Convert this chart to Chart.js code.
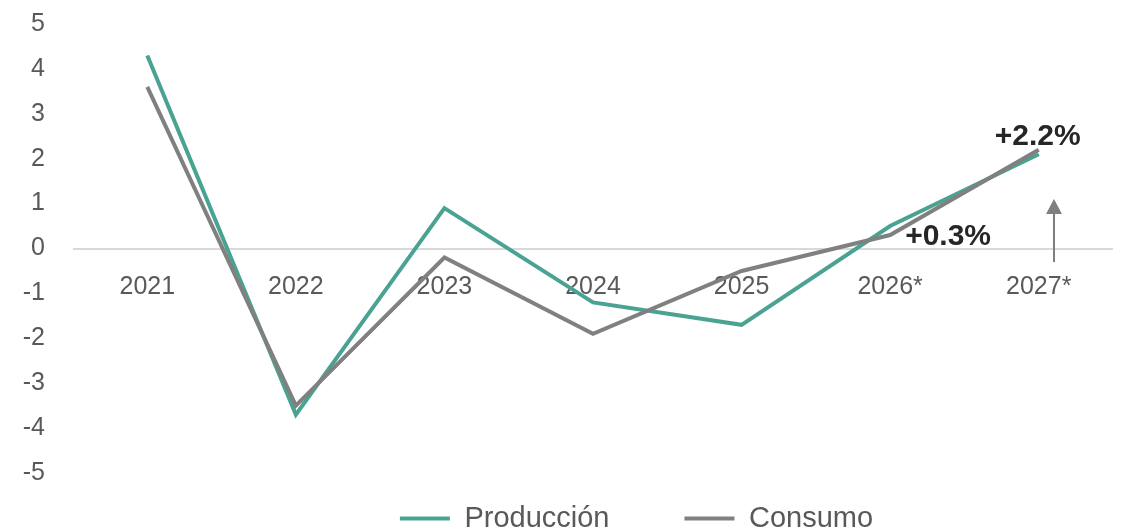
<!DOCTYPE html>
<html>
<head>
<meta charset="utf-8">
<script src="https://cdn.jsdelivr.net/npm/chart.js@4/dist/chart.umd.min.js"></script>
<style>
  html, body { margin: 0; padding: 0; background: #ffffff; }
  #wrap { width: 1122px; height: 531px; position: relative; }
</style>
</head>
<body>
<div id="wrap"><canvas id="c" width="1122" height="531"></canvas></div>
<script>
const categories = ['2021', '2022', '2023', '2024', '2025', '2026*', '2027*'];
const produccion = [4.3, -3.7, 0.9, -1.2, -1.7, 0.5, 2.1];
const consumo = [3.6, -3.5, -0.2, -1.9, -0.5, 0.3, 2.2];
const seriesNames = ['Producción', 'Consumo'];
const yTicks = { min: -5, max: 5, step: 1 };
const annotations = [
  { text: '+2.2%', index: 6, value: 2.2, place: 'above' },
  { text: '+0.3%', index: 5, value: 0.3, place: 'right' }
];
const arrowMarks = [{ index: 6, from: -0.3, to: 1.1 }];

const FONT = "'Liberation Sans', Arial, Helvetica, sans-serif";
const TEAL = '#4aa392';
const GREY = '#808080';
const TEXT = '#595959';

const annotationPlugin = {
  id: 'annots',
  afterDatasetsDraw(chart) {
    const { ctx, scales: { x, y } } = chart;
    ctx.save();
    ctx.fillStyle = '#262626';
    ctx.font = 'bold 30px ' + FONT;
    annotations.forEach(a => {
      const px = x.getPixelForValue(a.index);
      const py = y.getPixelForValue(a.value);
      if (a.place === 'above') {
        ctx.textAlign = 'center';
        ctx.textBaseline = 'middle';
        ctx.fillText(a.text, px - 1, py - 13);
      } else {
        ctx.textAlign = 'left';
        ctx.textBaseline = 'middle';
        ctx.fillText(a.text, px + 15, py + 2);
      }
    });
    arrowMarks.forEach(m => {
      const px = Math.round(x.getPixelForValue(m.index)) + 15;
      const y0 = y.getPixelForValue(m.from);
      const y1 = y.getPixelForValue(m.to);
      ctx.strokeStyle = '#7f7f7f';
      ctx.fillStyle = '#7f7f7f';
      ctx.lineWidth = 2;
      ctx.beginPath();
      ctx.moveTo(px, y0);
      ctx.lineTo(px, y1 + 12);
      ctx.stroke();
      ctx.beginPath();
      ctx.moveTo(px, y1);
      ctx.lineTo(px - 8, y1 + 15);
      ctx.lineTo(px + 8, y1 + 15);
      ctx.closePath();
      ctx.fill();
    });
    ctx.restore();
  }
};

// move the legend box to where the reference places it
const legendPlace = {
  id: 'legendPlace',
  afterLayout(chart) {
    const lg = chart.legend;
    if (!lg) return;
    const dx = 80, dy = -44;
    lg.left += dx; lg.right += dx;
    lg.top += dy;
    lg.bottom = chart.height;
  }
};

new Chart(document.getElementById('c'), {
  type: 'line',
  data: {
    labels: categories,
    datasets: [
      { label: seriesNames[0], data: produccion, borderColor: TEAL, backgroundColor: TEAL,
        borderWidth: 4, pointRadius: 0, tension: 0, order: 1 },
      { label: seriesNames[1], data: consumo, borderColor: GREY, backgroundColor: GREY,
        borderWidth: 4, pointRadius: 0, tension: 0, order: 0 }
    ]
  },
  options: {
    responsive: false,
    animation: false,
    devicePixelRatio: 1,
    layout: { padding: { top: 24, right: 9, bottom: 0, left: 0 } },
    plugins: {
      tooltip: { enabled: false },
      legend: {
        position: 'bottom',
        maxHeight: 58,
        labels: {
          sort: (a, b) => a.datasetIndex - b.datasetIndex,
          boxWidth: 50,
          boxHeight: 0,
          padding: 75,
          color: TEXT,
          font: { family: FONT, size: 29 }
        }
      }
    },
    scales: {
      x: {
        type: 'category',
        offset: true,
        position: { y: 0 },
        grid: { display: false, drawTicks: false },
        border: { display: false },
        ticks: { color: TEXT, font: { family: FONT, size: 25 }, padding: 24, maxRotation: 0 }
      },
      y: {
        min: yTicks.min,
        max: yTicks.max,
        afterFit(scale) { scale.width = 73; scale.paddingTop = 0; scale.paddingBottom = 0; },
        grid: {
          drawTicks: false,
          color: ctx => (ctx.tick && ctx.tick.value === 0) ? '#d9d9d9' : 'rgba(0,0,0,0)',
          lineWidth: 2
        },
        border: { display: false },
        ticks: { stepSize: yTicks.step, color: TEXT, font: { family: FONT, size: 25 }, padding: 28 }
      }
    }
  },
  plugins: [annotationPlugin, legendPlace]
});
</script>
</body>
</html>
